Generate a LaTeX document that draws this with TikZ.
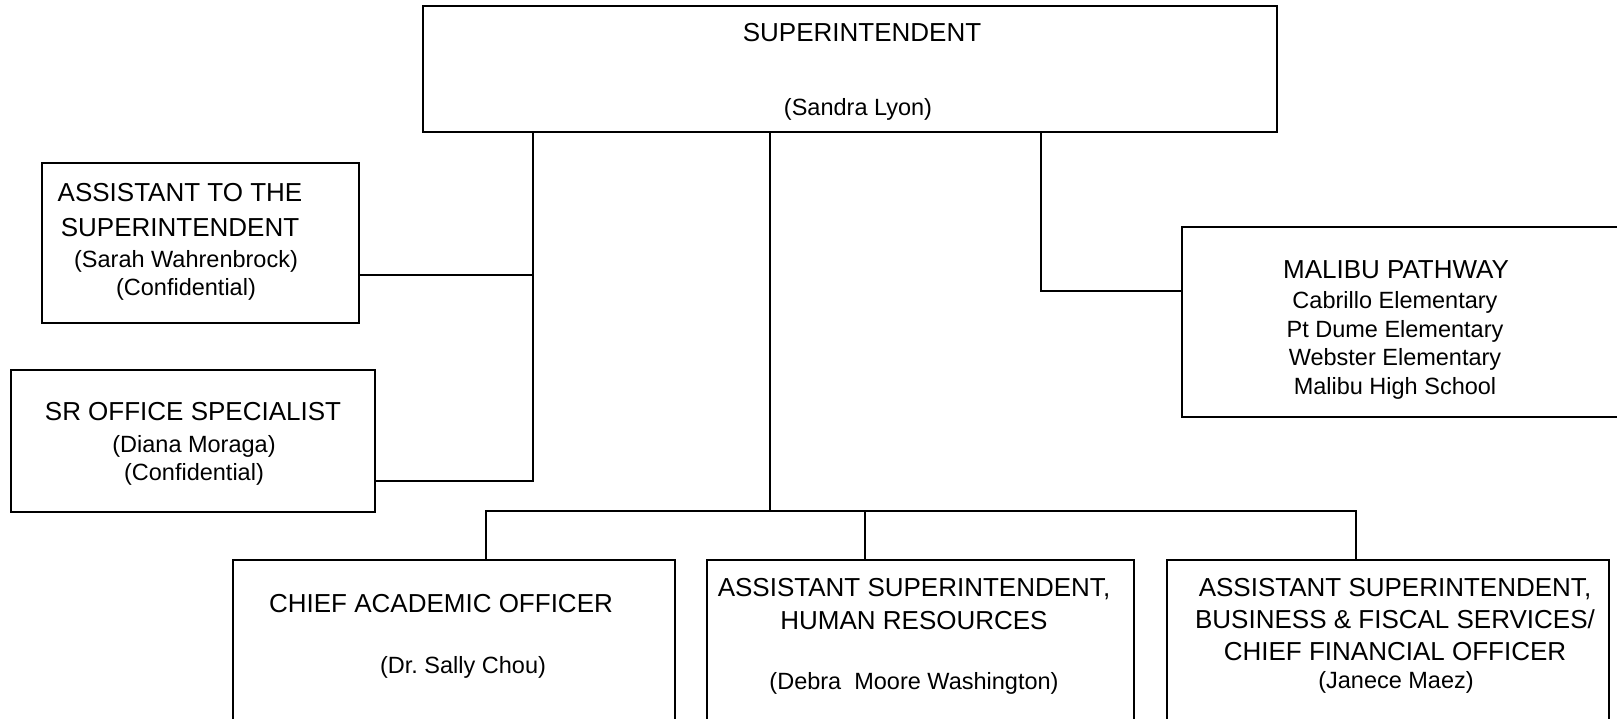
\documentclass[tikz,border=0pt]{standalone}
\usepackage{fontspec}
\setmainfont{Liberation Sans}

\begin{document}
\begin{tikzpicture}[x=1pt,y=-1pt,
        box/.style={draw=black, line width=2.4pt, inner sep=0pt},
        bigtext/.style={font=\fontsize{26}{33}\selectfont, align=center, inner sep=0pt},
        smalltext/.style={font=\fontsize{23.5}{28.5}\selectfont, align=center, inner sep=0pt, yshift=-2.5pt},
        link/.style={draw=black, line width=2pt}]
        % Page size (same as the chart)
        \useasboundingbox (0,0) rectangle (1617,718);
        \clip (0,0) rectangle (1617,718);

        % Define the bus level
        \def\busy{511} % y of the bus to the lower boxes

        % Draw the boxes
        \node[box, minimum width=854, minimum height=126] (sup) at (850,69) {};
        \node[box, minimum width=317, minimum height=160] (ats) at (200.5,243) {};
        \node[box, minimum width=364, minimum height=142] (sro) at (193,441) {};
        \node[box, minimum width=458, minimum height=190] (mal) at (1411,322) {};
        \node[box, minimum width=442, minimum height=180] (cao) at (454,650) {};
        \node[box, minimum width=427, minimum height=180] (hrs) at (920.5,650) {};
        \node[box, minimum width=442, minimum height=180] (cfo) at (1388,650) {};

        % Texts in the boxes
        \node[bigtext] (supA) at (862,33) {SUPERINTENDENT};
        \node[smalltext] (supB) at (858,107) {(Sandra Lyon)};
        \node[bigtext, font=\fontsize{26}{35}\selectfont] (atsA) at (180,210) {ASSISTANT TO THE\\SUPERINTENDENT};
        \node[smalltext] (atsB) at (186,273) {(Sarah Wahrenbrock)\\(Confidential)};
        \node[bigtext] (sroA) at (193,412) {SR OFFICE SPECIALIST};
        \node[smalltext] (sroB) at (194,458) {(Diana Moraga)\\(Confidential)};
        \node[bigtext] (malA) at (1396,270) {MALIBU PATHWAY};
        \node[smalltext] (malB) at (1395,343) {Cabrillo Elementary\\Pt Dume Elementary\\Webster Elementary\\Malibu High School};
        \node[bigtext] (caoA) at (441,604) {CHIEF ACADEMIC OFFICER};
        \node[smalltext] (caoB) at (463,665) {(Dr.\ Sally Chou)};
        \node[bigtext] (hrsA) at (914,604) {ASSISTANT SUPERINTENDENT,\\HUMAN RESOURCES};
        \node[smalltext] (hrsB) at (914,681) {(Debra\ \ Moore Washington)};
        \node[bigtext, font=\fontsize{26}{32}\selectfont] (cfoA) at (1395,620) {ASSISTANT SUPERINTENDENT,\\BUSINESS \& FISCAL SERVICES/\\CHIEF FINANCIAL OFFICER};
        \node[smalltext] (cfoB) at (1396,680) {(Janece Maez)};

        % Left branch
        \coordinate (aj) at (533,275);
        \coordinate (sj) at (533,481);
        \draw[link] (sup.south -| sj) -- (sj) -- (sro.east |- sj);
        \draw[link] (ats.east |- aj) -- (aj);

        % Right branch
        \coordinate (mj) at (1041,291);
        \draw[link] (sup.south -| mj) -- (mj) -- (mal.west |- mj);

        % Middle branch and the bus
        \coordinate (bus) at (770,\busy);
        \coordinate (busL) at (486,\busy);
        \coordinate (busR) at (1356,\busy);
        \draw[link] (sup.south -| bus) -- (bus);
        \draw[link] (cao.north -| busL) -- (busL) -- (busR) -- (cfo.north -| busR);
        \foreach \n/\x in {hrs/865} {
            \draw[link] (\x,\busy) -- (\n.north -| \x,\busy);
        }
\end{tikzpicture}
\end{document}
